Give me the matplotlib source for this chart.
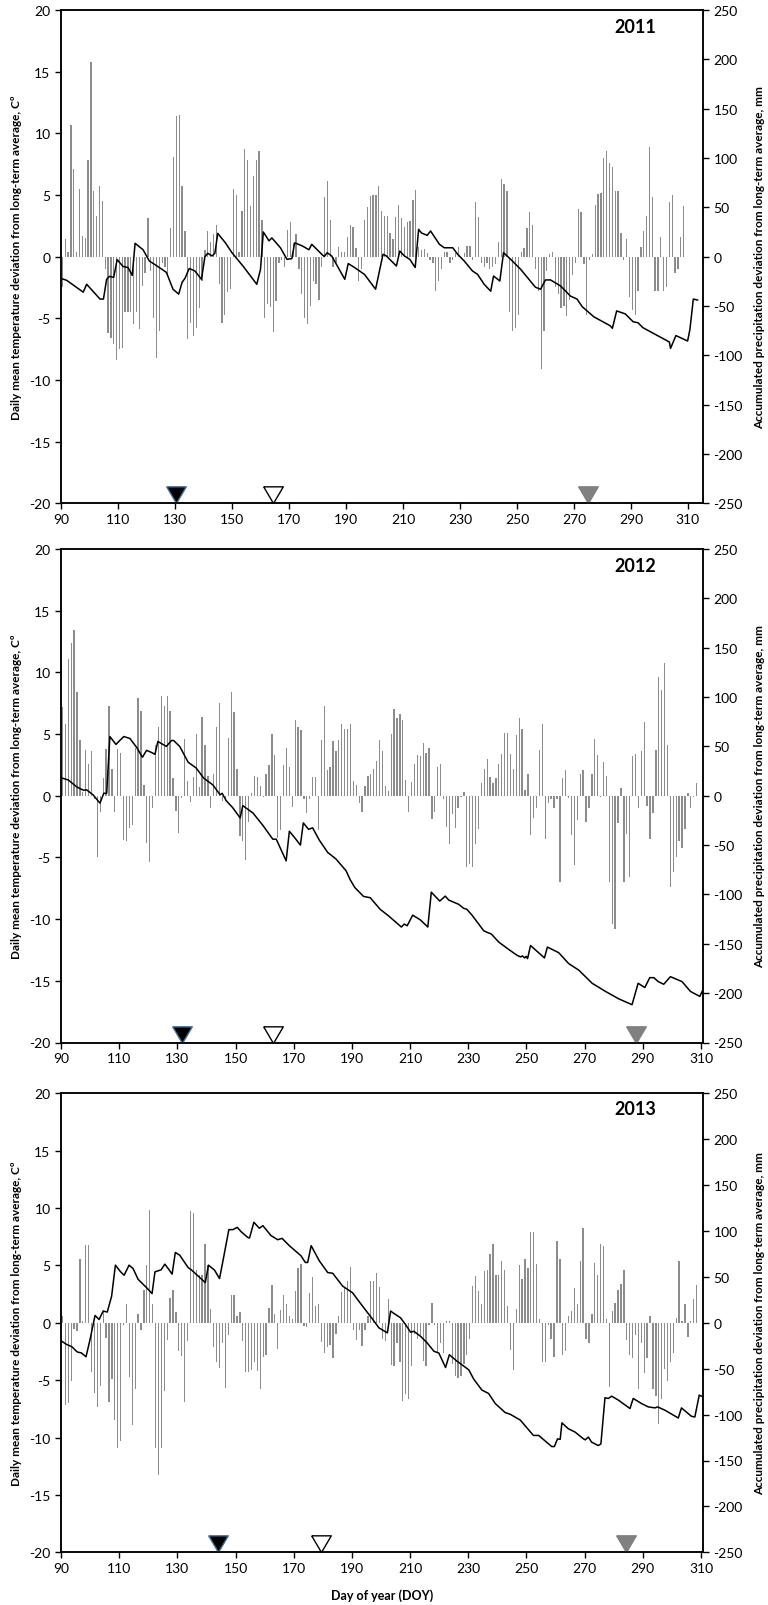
import numpy as np
import matplotlib
matplotlib.use("Agg")
import matplotlib.pyplot as plt

plt.rcParams['font.family'] = ['Lato', 'DejaVu Sans']
plt.rcParams['axes.unicode_minus'] = False

# daily mean temperature deviation (°C), one value per day starting at DOY 90
temp_2011 = [
    -2.5, 1.4, 0.4, 10.7, 7.1, 0.4, 5.5, 1.7, 1.5, 7.8, 15.8, 5.3, 3.3, 5.7, 4.5, -1.0, -6.2, -6.6, -7.1, -8.4,
    -7.5, -7.4, -4.5, -4.5, -4.5, -5.5, -4.5, -5.9, -2.4, -1.3, 3.1, -1.2, -5.0, -8.2, -6.0, -0.5, -0.8, -1.5, 2.3, 8.1, 11.4,
    11.5, 5.7, 2.1, -6.7, -5.4, -6.4, -5.8, -4.2, -2.0, 0.5, 2.1, 1.2, 1.8, 2.6, -2.2, -5.4, -4.7, -2.9, -2.6, 5.5,
    5.0, 0.4, 3.7, 8.7, 7.8, 4.1, 6.5, 7.8, 8.6, 3.0, -5.0, -3.8, -4.1, -6.1, -3.6, -0.5, -0.3, -0.8, 2.2, 2.8,
    1.1, 1.8, -1.0, -3.0, -5.0, -5.5, -4.0, -2.0, -2.2, -3.5, -0.8, 4.8, 6.1, 3.0, -0.8, -0.5, 0.8, 0.4, 0.4, 1.6,
    2.6, 2.4, 0.7, -2.0, -1.0, 3.0, 4.0, 4.9, 5.0, 5.0, 5.7, 3.7, 3.3, 3.3, 1.9, 1.4, 3.2, 4.2,
    3.1, 2.4, 2.8, 2.9, 4.6, 5.4, 0.8, 0.5, 0.6, 0.3, -0.3, -0.5, -2.8, -2.0,
    -1.0, 0.35, 0.4, -0.5, -0.3, 0.3, 0.8, -0.2, 0.3, 0.9, 0.9, -0.3, 4.4, 3.2,
    -0.5, -0.8, -0.5, -1.0, -0.8, -0.6, 1.2, 6.3, 5.9, 5.3, -4.5, -6.0, -5.8, -4.7,
    0.4, 0.7, 2.3, 3.6, 2.6, -1.0, -2.8, -9.1, -6.0, -1.2, 0.2, 0.4,
    -2.5, -3.0, -4.2, -4.0, -4.8, -3.5, -1.5, -0.5, 3.9, 3.6, -0.6, -4.7, -0.3,
    0.2, 4.2, 5.1, 5.2, 8.0, 8.6, 7.6, 7.3, 5.3, 5.3, 1.9,
    -0.3, 1.4, -3.3, -4.3, -4.7, -2.8, 0.8, 2.1, 3.3, 8.9, 4.8,
    -2.8, -2.8, 1.6, -2.8, -2.5, 4.4, 5.0, -1.3, -1.0, 1.6, 4.1,
]
temp_2012 = [
    7.2, 5.8, 11.1, 12.4, 13.4, 8.4, 4.5, 0.3, 3.7, 2.6,
    3.6, -0.3, -5.0, -1.3, 1.4, 3.8, 7.3, 2.2, -1.3, 3.8,
    3.5, -3.6, -3.7, -2.6, -2.4, 3.9, 7.9, 6.9, 0.9, -3.8,
    -5.4, -1.0, 4.1, 5.6, 8.1, 7.3, 8.1, 6.9, 1.4, -1.2,
    -3.0, -0.2, 4.6, 1.2, -0.5, 1.5, 5.0, 0.7, 6.4, 4.1,
    1.6, -1.0, 1.8, 5.6, 7.5, -0.4, -0.4, 4.7, 8.4, 6.8,
    2.2, -3.3, -3.7, -5.2, -2.1, 0.2, 1.6, 1.5, 0.8, -0.1,
    1.8, 2.5, 5.0, 3.3, -3.4, -2.8, 2.5, 3.9, 2.3, -0.9,
    6.1, 5.6, 5.3, -0.3, -1.4, -0.3, 1.5, 1.5, -2.8, 4.5,
    7.3, 2.1, 2.3, 4.4, 3.6, 4.5, 5.8, 5.4, 5.4, 5.8,
    1.2, 0.9, -0.6, -1.3, 0.8, 1.6, 1.8, 2.2,
    2.8, 4.5, 3.6, 0.8, 0.4, 5.0, 7.0, 6.3, 6.6, 6.1,
    1.3, -1.3, 1.1, 2.6, 3.3, 3.2, 4.3, 3.5, 3.9, -1.9,
    -1.3, 2.3, 2.6, -0.3, -2.5, -3.9, -1.5, -2.6, -1.0, -0.1,
    0.3, -5.8, -5.5, -5.8, -3.9, -2.7, 1.0, 2.2, 3.0, 1.5,
    1.0, 1.4, 2.6, 3.4, 5.1, 5.1, 3.4, 2.2, 4.9, 6.3,
    5.4, 0.5, 1.8, -3.2, -1.8, -1.0, 3.7, 5.8, -3.5, -0.6,
    -0.3, -1.0, -0.3, -7.0, 1.4, 2.1, -0.2, -3.2, -5.6, -2.0,
    1.8, 2.1, -2.1, -1.0, 1.8, 4.6, 3.3, -0.1, 2.7, 1.6,
    -7.0, -10.4, -10.8, -2.2, 0.6, -7.0, -3.1, -6.6, 3.2, 3.4,
    -1.0, 3.6, 6.0, -0.8, -3.5, -1.4, 3.7, 9.6, 8.6, 10.8,
    4.1, -7.4, -6.2, -5.0, -3.7, -4.2, -2.7, 0.2, -1.0, -0.1,
    1.0,
]
temp_2013 = [
    0.6, -7.2, -7.0, -5.1, -0.5, -0.7, 5.6, 0.2, 6.8, 6.8,
    -4.3, -6.1, -7.3, -5.5, 1.1, -1.3, -6.9, -4.9, -8.5, -10.9,
    -10.3, -0.2, 1.6, -4.7, -8.9, -5.8, 0.8, -0.6, 2.9, 5.0,
    9.8, 1.6, -10.9, -13.3, -10.9, -5.9, -1.5, 2.2, 2.9, 0.9,
    -2.5, -2.9, -6.9, -1.6, 9.7, 9.6, 4.6, 4.2, 4.2, 6.9,
    5.0, 1.2, -2.1, -3.4, -3.9, -1.8, -5.7, -1.1, 2.4, 2.4,
    0.6, 0.9, -1.6, -4.3, -4.3, -4.1, -3.4, -4.2, -5.8, -3.0,
    -2.8, 1.3, 3.3, 0.8, -2.3, 1.1, 2.4, 1.6, 0.6, 0.3,
    2.8, 4.8, 5.1, -0.3, -0.4, 2.6, 4.0, 1.5, 1.6, -1.7,
    -2.6, -2.1, -1.9, -3.1, -1.0, 0.6, 2.7, 3.1, 3.6, 4.9,
    -0.6, -1.5, -0.6, -2.0, -0.6, 0.6, 3.6, 3.6,
    4.3, 3.1, -1.4, -1.6, 2.1, -3.7, -3.8, -1.8, -3.4, -6.8,
    -6.2, -6.6, -3.8, -1.0, -1.4, -1.1, -3.3, -3.8, -0.2, 1.7,
    -0.2, -2.6, -1.8, -2.6, 0.2, 0.2, -3.6, -4.6, -4.8, -4.6,
    -3.6, -2.8, -1.4, 3.2, 4.1, 2.8, 1.6, 4.5, 4.6, 6.0,
    6.9, 4.2, 4.2, 5.4, 4.6, 1.5, -2.4, -4.1, 1.2, 5.0,
    3.8, 5.6, 4.8, 7.9, 7.9, 5.1, 0.3, -3.4, -3.4, -0.2,
    -1.4, -3.0, 7.1, 5.6, -2.8, -2.5, 0.6, 1.0, 3.0, 1.6,
    5.4, 8.3, -1.4, -1.8, 0.8, 5.2, 4.2, 6.9, 6.7, 0.3,
    -5.6, 1.0, 1.7, 2.9, 3.4, 4.6, -1.5, -2.8, -3.1, -1.1,
    -5.8, -1.8, -4.4, -3.1, 0.6, -5.8, -6.4, -8.8, -6.6, -4.0,
    -5.1, -3.4, -2.6, 0.4, 5.4, 0.2, 1.6, -1.2, 0.2, 2.1,
    3.3,
]

# accumulated precipitation deviation (mm), line vertices
prec_day_2011 = [90, 92, 97.8, 99, 103.7, 104.9, 106, 107, 108.5, 109.7, 111.8, 113.5, 115, 116, 118.8, 121, 124, 127,
                 129.3, 131.3, 132.5, 133.5, 135, 137, 139.3, 140.5, 141.5, 143, 144, 145, 147.7, 150, 154, 158.7,
                 160, 161, 163, 164, 167, 169.3, 171, 172, 174.6, 177, 178, 181.5, 182.4, 183.4, 185, 189.6, 190.8,
                 193, 196.5, 200.4, 203, 204.2, 207.7, 208.9, 210.5, 212.4, 214.3, 215.5, 216.5, 218.5, 219.7, 222.8,
                 224.5, 227.5, 229.2, 231.5, 234.4, 236.2, 238.5, 240.8, 241.8, 244, 245.3, 247.8, 251.3, 256.5,
                 258.3, 260, 261.8, 265.3, 268.8, 271.1, 272.9, 277, 282.7, 283.5, 285, 288, 290.8, 292.5, 294.2,
                 303.5, 303.9, 305.8, 309.9, 310.7, 311.9, 313.4]
prec_mm_2011 = [-22, -24, -36, -28, -43, -43, -23, -20, -21, -3, -10, -11, -19, 13.5, 7, -4.4, -10, -16,
                -33, -38, -26, -22, -12, -14.5, -23, 0, 3.4, 0.7, 3.4, 23.6, 14, 4, -10, -28,
                -13, 25, 16, 19, 9, -2.7, -2, 14, 11, 7, 12.5, 2.4, 0, 4, 0.7, -23, -7,
                -11, -18, -33, 2.4, 0.7, -9.5, 5.7, 0.7, -2.7, -11, 27.7, 24, 21.6, 26, 12.5,
                9, 9, 2.4, -4.4, -14.5, -18, -28, -35, -19.6, -24.7, 4, -2.7, -12.8, -31,
                -33, -23.6, -23.6, -29.7, -40, -43, -50.7, -61, -70, -72.6, -55, -58, -66, -67, -72,
                -86.5, -93, -80, -85.5, -74, -43, -44]

prec_day_2012 = [90.2, 92.5, 95.4, 97.7, 98.8, 101, 103.4, 104.7, 105.7, 106.8, 108.9, 110.2, 111.6, 113.7, 116, 118,
                 119.4, 121, 122.3, 123.3, 126.2, 128, 128.7, 130.8, 133.7, 136.5, 139, 142.2, 144.7, 145.4, 146.8,
                 149, 151.6, 152.5, 156, 159.4, 162.8, 164, 167.4, 168.5, 170.2, 172.3, 173.3, 175.1, 176.5, 178.8,
                 181.7, 184.5, 188, 189.4, 191, 194, 196.3, 199.7, 202.6, 207, 208, 209, 210.9, 213.5, 216.1, 217.3,
                 220.2, 222.1, 223.3, 226.7, 228.4, 229.5, 231.3, 235.3, 236.4, 237.9, 240.5, 243.9, 246.8, 248,
                 248.6, 249.4, 249.9, 250.4, 251.4, 256.2, 257.2, 261.1, 264.5, 268, 272.6, 277.2, 281.7, 286.3,
                 288.4, 290.7, 292.4, 293.8, 295.3, 297.2, 299.5, 303.5, 306.4, 309.6, 310.4]
prec_mm_2012 = [18, 16, 9, 5.6, 6, 1, -7.5, 2.5, 2.5, 60, 52, 56, 60, 58, 49, 39,
                46, 44, 42, 55, 50, 56, 56, 50, 34, 28, 18, 11, 1, 2.5, -5,
                -12, -22.5, -10, -17.5, -30, -44, -44, -66, -36, -42, -50, -27.5, -34, -32.5, -45,
                -57.5, -64, -76, -85, -93, -102, -103.3, -115, -121.7, -133, -130, -131.7, -121, -125.7, -133, -97.7,
                -106.7, -101.7, -105.7, -110, -114, -115, -121, -136.7, -138.3, -140, -148.3, -155.7, -161.7, -163.3,
                -162.3, -164.3, -162.7, -165, -151.7, -164.3, -153.3, -159, -170, -176.7, -190, -198.3, -205.7, -211.7,
                -190, -194.3, -184.3, -184.3, -188.3, -191, -183.3, -188.3, -198.3, -203.3, -198.3]

prec_day_2013 = [90.2, 92, 93.7, 95.6, 97, 98.6, 100, 101.7, 103.1, 104.5, 105.9, 107.4, 108.7, 110.5, 111.7, 113.4,
                 114.8, 116.5, 119.4, 121.3, 122.3, 124.4, 125.7, 127, 128.2, 129.3, 130.8, 133.7, 134.8, 139.6,
                 140.7, 142.8, 144.5, 145.9, 147.7, 149.1, 150.6, 151.9, 154.2, 154.8, 156.3, 158.2, 159.4, 162.2,
                 164.5, 166, 168.5, 172.5, 174, 174.8, 176, 178.8, 181.7, 183.4, 186.8, 190.2, 193.7, 197.1,
                 199.3, 202.2, 203.3, 204.4, 206.7, 208.4, 210.2, 211.3, 213.6, 215.9, 218.2, 219.9, 222.2, 223.5,
                 226.2, 228.4, 230.2, 231.9, 234.7, 237, 239.3, 242.7, 244.4, 247.9, 252.4, 254.2, 258.7, 259.6,
                 260.7, 261.6, 262.2, 264.4, 266.7, 269.6, 270.2, 271.3, 272.4, 274.7, 275.6, 277, 278.2, 279.3,
                 281.6, 285.6, 286.7, 289.6, 291.9, 294.2, 295.1, 297.6, 302.2, 303.3, 306.7, 307.9, 309.4, 310.2]
prec_mm_2013 = [-20, -23.7, -26, -31.8, -32.8, -37, -18, 8, 3.6, 12.8, 11.7, 29, 62.8, 55.5, 51.8, 62.8,
                59, 47.4, 38.3, 31.8, 55.5, 57.7, 63.9, 58.4, 53, 76.6, 73.7, 60.2, 57.7, 43.8,
                62.8, 57.3, 48.2, 71.2, 101.5, 101.5, 104, 99.3, 93, 92.3, 109.5, 103, 105.8, 95,
                90.5, 92, 84, 73, 65.7, 65.7, 84, 67.5, 54.7, 54, 40, 32.8, 18, 4,
                -5.5, -11, 12.8, 10.3, 5.5, -1.8, -10.3, -9.2, -14.7, -22, -31, -33, -48.7, -34.8,
                -42, -47, -51.3, -61.5, -73.3, -77, -88, -97.8, -99.6, -106, -122.7, -122.7, -134.8, -134.8,
                -126.4, -127, -109, -115.4, -119, -126.4, -127.5, -124.5, -130, -133.7, -132, -81.7, -82.4, -79.9,
                -84.2, -93.4, -82.4, -88, -91.6, -92.7, -91.6, -95.2, -103.7, -92.7, -101.8, -102.6, -78.8, -79.9]

# triangle markers on the x axis (DOY): black, white, grey
events_2011 = [130.4, 164.4, 274.9]
events_2012 = [131.5, 162.8, 287.6]
events_2013 = [144.1, 179.3, 284.2]

years = ['2011', '2012', '2013']
temps = [temp_2011, temp_2012, temp_2013]
prec_days = [prec_day_2011, prec_day_2012, prec_day_2013]
prec_mms = [prec_mm_2011, prec_mm_2012, prec_mm_2013]
events = [events_2011, events_2012, events_2013]
xmax = [315.3, 310.7, 310.7]

W, H = 768, 1606
# (top, bottom) of each panel in pixels
panel_px = [(11, 504.3), (550, 1043.5), (1094.3, 1553.3)]

fig = plt.figure(figsize=(W / 100, H / 100), dpi=100, facecolor='white')

tri = [(-1, 1.7), (1, 1.7), (0, 0), (-1, 1.7)]
tri_face = ['black', 'white', '#808080']
tri_edge = ['#41719c', 'black', '#808080']

for i in range(3):
    top, bot = panel_px[i]
    ax = fig.add_axes([61 / W, 1 - bot / H, 642 / W, (bot - top) / H])
    vals = np.array(temps[i])
    days = np.arange(90, 90 + len(vals)) + 0.5
    ax.bar(days, vals, width=0.45, color='#8c8c8c', linewidth=0, zorder=2)
    ax.set_xlim(90, xmax[i])
    ax.set_ylim(-20, 20)
    ax.set_yticks(np.arange(-20, 21, 5))
    ax.set_xticks(np.arange(90, 311, 20))
    ax.tick_params(axis='both', labelsize=10, direction='out', length=4, width=1)
    ax.tick_params(axis='x', pad=3)
    for s in ax.spines.values():
        s.set_linewidth(1.1)
    ax.set_ylabel('Daily mean temperature deviation from long-term average, Cº',
                  fontsize=8.5, fontweight='bold')
    ax.yaxis.set_label_coords(-0.061, 0.5)

    for j, d in enumerate(events[i]):
        ax.plot(d, -20, marker=tri, markersize=24, markerfacecolor=tri_face[j],
                markeredgecolor=tri_edge[j], markeredgewidth=1, linestyle='none',
                clip_on=False, zorder=6)

    ax.text(0.895, 0.966, years[i], transform=ax.transAxes, ha='center', va='center',
            fontsize=13, fontweight='bold')

    ax2 = ax.twinx()
    ax2.plot(prec_days[i], prec_mms[i], color='black', linewidth=1.1, zorder=3)
    ax2.set_ylim(-250, 250)
    ax2.set_yticks(np.arange(-250, 251, 50))
    ax2.set_xlim(90, xmax[i])
    ax2.tick_params(axis='y', labelsize=10, direction='out', length=4, width=1)
    for s in ax2.spines.values():
        s.set_linewidth(1.1)
    ax2.set_ylabel('Accumulated precipitation deviation from long-term average, mm',
                   fontsize=8.5, fontweight='bold')
    ax2.yaxis.set_label_coords(1.079, 0.5)

fig.text(382 / W, 1 - 1596 / H, 'Day of year (DOY)', ha='center', va='center',
         fontsize=9, fontweight='bold')

fig.savefig('out.png', dpi=100)
